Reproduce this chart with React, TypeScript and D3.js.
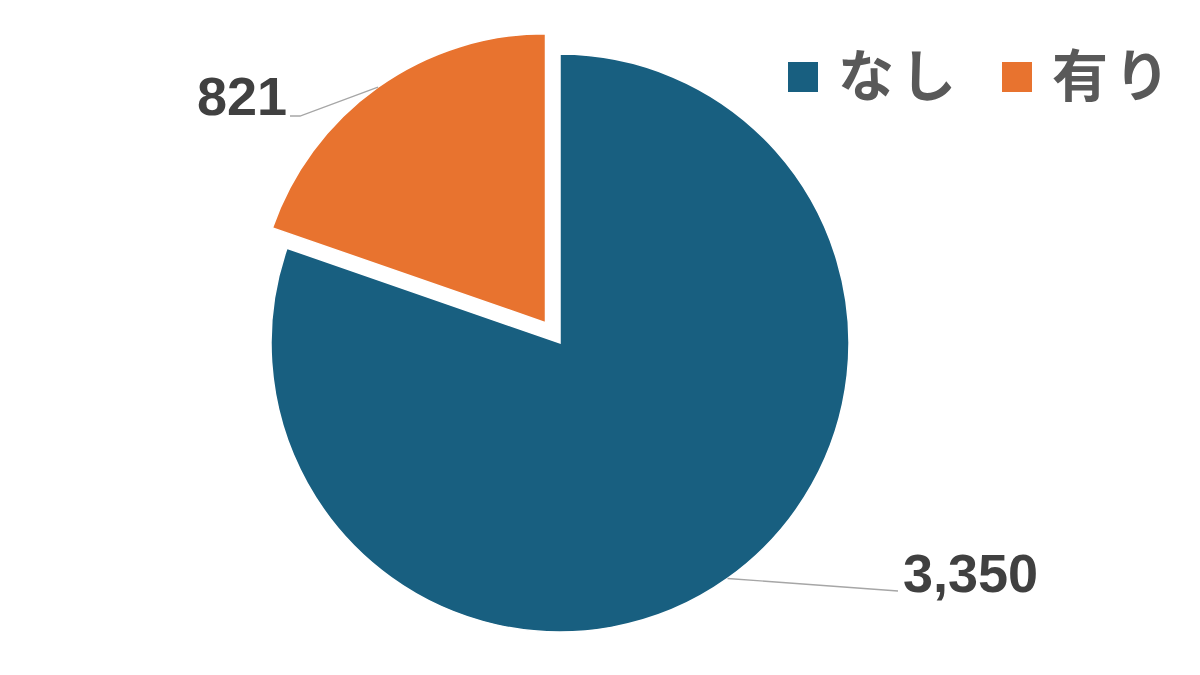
import React from 'react';
import * as d3 from 'd3';

const categories = ['なし', '有り'];
const values = [3350, 821];
const colors = ['#185f80', '#e8732f'];

const W = 1200;
const H = 675;
const CX = 560;
const CY = 343;
const R = 289;
const EXPLODE = [0, 25];
// label anchor (where leader ends) relative to pie centre
const labelAnchor = [
  { dx: 338, dy: 248, tx: 343, ty: 249, align: 'start' },
  { dx: -260, dy: -227, tx: -273, ty: -228, align: 'end' },
];

export default function App() {
  const pie = d3.pie<number>().sort(null).value((d) => d)(values);
  const arc = d3.arc<d3.PieArcDatum<number>>().innerRadius(0).outerRadius(R);
  const fmt = d3.format(',');

  return (
    <svg
      width={W}
      height={H}
      style={{ position: 'absolute', left: 0, top: 0, background: '#fff' }}
    >
      <rect width={W} height={H} fill="#fff" />
      {pie.map((p, i) => {
        const mid = (p.startAngle + p.endAngle) / 2;
        const ox = Math.sin(mid) * EXPLODE[i];
        const oy = -Math.cos(mid) * EXPLODE[i];
        return (
          <path
            key={i}
            d={arc(p) || ''}
            transform={`translate(${CX + ox},${CY + oy})`}
            fill={colors[i]}
            stroke="#fff"
            strokeWidth={1.5}
          />
        );
      })}
      {pie.map((p, i) => {
        const mid = (p.startAngle + p.endAngle) / 2;
        const ox = Math.sin(mid) * EXPLODE[i];
        const oy = -Math.cos(mid) * EXPLODE[i];
        const ax = CX + ox + Math.sin(mid) * R;
        const ay = CY + oy - Math.cos(mid) * R;
        const la = labelAnchor[i];
        const ex = CX + la.dx;
        const ey = CY + la.dy;
        const pts: [number, number][] =
          la.align === 'start'
            ? [
                [ax, ay],
                [ex, ey],
              ]
            : [
                [ax, ay],
                [ex, ey],
                [ex - 10, ey],
              ];
        const line = d3.line()(pts) || '';
        return (
          <g key={'l' + i}>
            <path d={line} fill="none" stroke="#a6a6a6" strokeWidth={1.3} />
            <text
              x={CX + la.tx}
              y={CY + la.ty}
              textAnchor={la.align}
              fontFamily="'Liberation Sans', Arial, sans-serif"
              fontWeight={700}
              fontSize={54}
              fill="#404040"
            >
              {fmt(values[i])}
            </text>
          </g>
        );
      })}
      {categories.map((c, i) => {
        const x0 = [788, 1002][i];
        return (
          <g key={'lg' + i}>
            <rect x={x0} y={62} width={30} height={30} fill={colors[i]} />
            <text
              x={x0 + 50}
              y={96}
              fontFamily="'Noto Sans CJK JP', sans-serif"
              fontWeight={700}
              fontSize={56}
              letterSpacing={6}
              fill="#595959"
            >
              {c}
            </text>
          </g>
        );
      })}
    </svg>
  );
}
